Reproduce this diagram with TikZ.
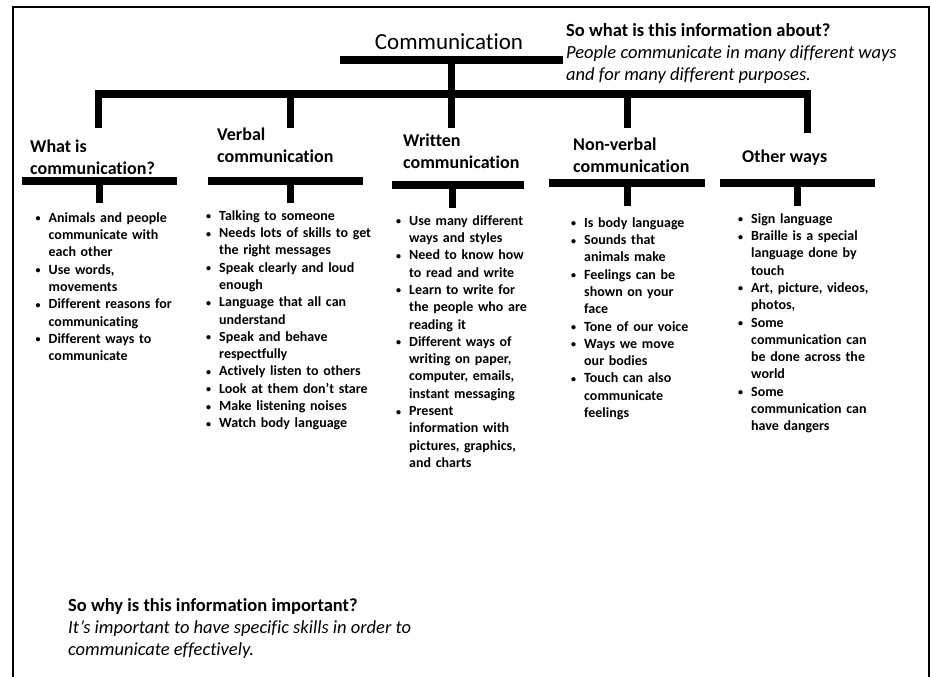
\documentclass[tikz,border=0pt]{standalone}
\usepackage{fontspec}
\setmainfont{Carlito}[Ligatures=NoCommon]
% one list entry: a small bullet with the wrapped lines hanging under the text
\newcommand{\bpt}[1]{\hangindent=13pt\hangafter=1\noindent
  \makebox[13pt][l]{\raisebox{0.5pt}{\fontsize{10}{10}\selectfont •}}#1\par}
\begin{document}
\begin{tikzpicture}[x=1pt,y=-1pt,
  bar/.style={rectangle,fill=black,draw=none,inner sep=0pt,minimum height=8pt},
  link/.style={line width=7pt},
  heading/.style={anchor=north west,inner sep=0pt,align=left,
    font=\fontsize{18}{22}\selectfont\bfseries},
  bullets/.style={anchor=north west,inner sep=0pt,text width=175pt,align=left,
    font=\fontsize{14}{17.3}\selectfont\bfseries},
  note/.style={anchor=north west,inner sep=0pt,align=left,
    font=\fontsize{18.5}{22}\selectfont}]
\useasboundingbox (0,0) rectangle (930,677);

% outer frame, open at the bottom
\draw[line width=2.5pt] (13,677) -- (13,7) -- (929,7) -- (929,677);

% root of the tree
\node[font=\fontsize{23}{27}\selectfont,anchor=base] (title) at (449,50) {Communication};
\node[bar,minimum width=223pt] (topbar) at (451.5,60) {};
\node[bar,minimum width=716pt] (mainbar) at (453,94) {};
\draw[link] (topbar.south) -- (topbar.south |- mainbar.north);

% drops from the main bar to the five branches
\coordinate (d1) at (98.5,128);
\coordinate (d2) at (290,128);
\coordinate (d3) at (451,128);
\coordinate (d4) at (627,128);
\coordinate (d5) at (807.5,133);
\foreach \d in {d1,d2,d3,d4,d5}
  \draw[link] (\d |- mainbar.south) -- (\d);

% branch headings
\node[heading] (h1) at (30,139.5) {What is\\communication?};
\node[heading] (h2) at (217,127.5) {Verbal\\communication};
\node[heading] (h3) at (403,133.5) {Written\\communication};
\node[heading] (h4) at (573,137.5) {Non-verbal\\communication};
\node[heading] (h5) at (742,149.5) {Other ways};

% underlining bars of the headings
\node[bar,minimum width=155pt] (u1) at (99.5,181) {};
\node[bar,minimum width=155pt] (u2) at (285.5,181) {};
\node[bar,minimum width=132pt] (u3) at (458,185) {};
\node[bar,minimum width=156pt] (u4) at (627,183) {};
\node[bar,minimum width=155pt] (u5) at (797.5,183) {};

% short stems under each heading bar
\coordinate (s1) at (99.5,203);
\coordinate (s2) at (290,203);
\coordinate (s3) at (452,208);
\coordinate (s4) at (627,206);
\coordinate (s5) at (797,206);
\draw[link] (s1 |- u1.south) -- (s1);
\draw[link] (s2 |- u2.south) -- (s2);
\draw[link] (s3 |- u3.south) -- (s3);
\draw[link] (s4 |- u4.south) -- (s4);
\draw[link] (s5 |- u5.south) -- (s5);

% bullet lists
\node[bullets] (l1) at (35.5,212.2) {%
\bpt{Animals and people\newline communicate with\newline each other}
\bpt{Use words,\newline movements}
\bpt{Different reasons for\newline communicating}
\bpt{Different ways to\newline communicate}};

\node[bullets] (l2) at (206,210.2) {%
\bpt{Talking to someone}
\bpt{Needs lots of skills to get\newline the right messages}
\bpt{Speak clearly and loud\newline enough}
\bpt{Language that all can\newline understand}
\bpt{Speak and behave\newline respectfully}
\bpt{Actively listen to others}
\bpt{Look at them don’t stare}
\bpt{Make listening noises}
\bpt{Watch body language}};

\node[bullets] (l3) at (396,215.2) {%
\bpt{Use many different\newline ways and styles}
\bpt{Need to know how\newline to read and write}
\bpt{Learn to write for\newline the people who are\newline reading it}
\bpt{Different ways of\newline writing on paper,\newline computer, emails,\newline instant messaging}
\bpt{Present\newline information with\newline pictures, graphics,\newline and charts}};

\node[bullets] (l4) at (571,217.2) {%
\bpt{Is body language}
\bpt{Sounds that\newline animals make}
\bpt{Feelings can be\newline shown on your\newline face}
\bpt{Tone of our voice}
\bpt{Ways we move\newline our bodies}
\bpt{Touch can also\newline communicate\newline feelings}};

\node[bullets] (l5) at (738,213.2) {%
\bpt{Sign language}
\bpt{Braille is a special\newline language done by\newline touch}
\bpt{Art, picture, videos,\newline photos,}
\bpt{Some\newline communication can\newline be done across the\newline world}
\bpt{Some\newline communication can\newline have dangers}};

% explanatory notes
\node[note] (about) at (566,23) {\textbf{So what is this information about?}\\
  \textit{People communicate in many different ways}\\
  \textit{and for many different purposes.}};
\node[note] (why) at (68,598) {\textbf{So why is this information important?}\\
  \textit{It’s important to have specific skills in order to}\\
  \textit{communicate effectively.}};
\end{tikzpicture}
\end{document}
